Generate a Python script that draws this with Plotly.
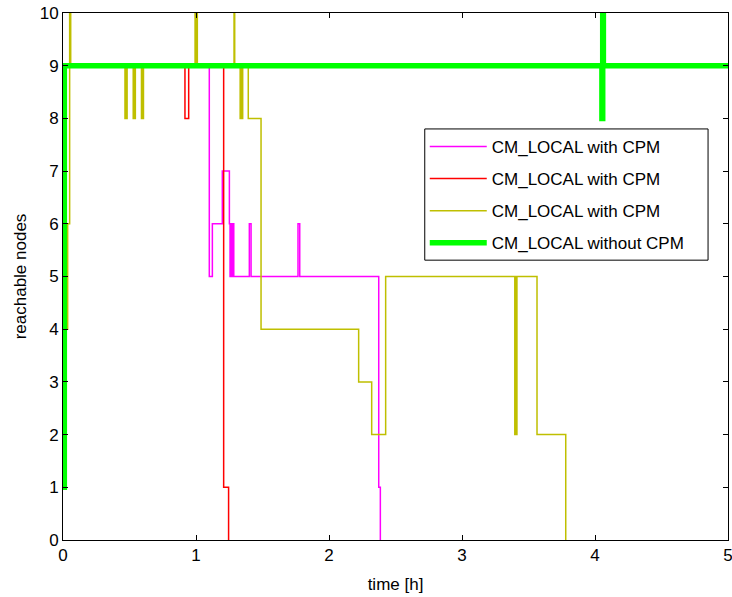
import plotly.graph_objects as go

# Reachable nodes over time for each run (step data, time in hours)
mag_t = [0.005, 1.100, 1.123, 1.198, 1.251, 1.256, 1.263, 1.270, 1.277, 1.284,
         1.401, 1.414, 1.767, 1.780, 2.374, 2.386]
mag_v = [9, 5, 6, 7, 6, 5, 6, 5, 6, 5,
         6, 5, 6, 5, 1, 0]

red_t = [0.005, 0.917, 0.945, 1.208, 1.245]
red_v = [9, 8, 9, 1, 0]

yel_t = [0.020, 0.035, 0.050, 0.058,
         0.466, 0.471, 0.476, 0.482,
         0.528, 0.533, 0.538, 0.544,
         0.590, 0.595, 0.600, 0.605,
         0.993, 0.999, 1.004, 1.010,
         1.286, 1.291,
         1.332, 1.338, 1.344, 1.351,
         1.393, 1.489, 2.223, 2.321, 2.426,
         3.397, 3.402, 3.407, 3.413,
         3.564, 3.780]
yel_v = [4, 6, 10, 9,
         8, 9, 8, 9,
         8, 9, 8, 9,
         8, 9, 8, 9,
         10, 9, 10, 9,
         10, 9,
         8, 9, 8, 9,
         8, 4, 3, 2, 5,
         2, 5, 2, 5,
         2, 0]

grn_t = [0.0, 0.010, 4.052, 4.058, 4.063, 5.0]
grn_v = [1, 9, 8, 10, 9, 9]

series = [
    ("CM_LOCAL with CPM", mag_t, mag_v, "#FF00FF", 1.5),
    ("CM_LOCAL with CPM", red_t, red_v, "#FF0000", 1.5),
    ("CM_LOCAL with CPM", yel_t, yel_v, "#BFBF00", 1.5),
    ("CM_LOCAL without CPM", grn_t, grn_v, "#00FF00", 5.5),
]

FONT = "Liberation Sans, Arial, Helvetica, sans-serif"
FS = 17

# legend frame (paper coordinates)
LEG_X0, LEG_X1 = 0.544, 0.970
LEG_Y0, LEG_Y1 = 0.531, 0.780

fig = go.Figure()
for i, (name, t, v, color, w) in enumerate(series):
    fig.add_trace(go.Scatter(
        x=t, y=v, mode="lines", name=name,
        line=dict(color=color, width=w, shape="hv"),
        legendgroup=f"g{i}",
    ))

axis_common = dict(
    showgrid=False, zeroline=False, showline=True, linecolor="black",
    linewidth=1, mirror="ticks", ticks="inside", ticklen=5,
    tickcolor="black", tickwidth=1, dtick=1,
    ticklabeloverflow="allow", automargin=False,
    tickfont=dict(family=FONT, size=FS, color="black"),
)

# white boxed backdrop for the legend, a bit wider than plotly's own box
fig.add_shape(
    type="rect", xref="paper", yref="paper",
    x0=LEG_X0, x1=LEG_X1, y0=LEG_Y0, y1=LEG_Y1,
    line=dict(color="black", width=1), fillcolor="white", layer="above",
)

fig.update_layout(
    width=732, height=597,
    margin=dict(l=63, r=4, t=13, b=57, autoexpand=False),
    paper_bgcolor="white", plot_bgcolor="white",
    font=dict(family=FONT, size=FS, color="black"),
    xaxis=dict(range=[0, 5], title=dict(text="time [h]", standoff=13,
               font=dict(family=FONT, size=FS)), **axis_common),
    yaxis=dict(range=[0, 10], title=dict(text="reachable nodes", standoff=8,
               font=dict(family=FONT, size=FS)), **axis_common),
    legend=dict(
        x=LEG_X0, y=LEG_Y1, xanchor="left", yanchor="top",
        bgcolor="rgba(0,0,0,0)", borderwidth=0,
        font=dict(family=FONT, size=FS, color="black"),
        tracegroupgap=7, itemwidth=57,
    ),
    showlegend=True,
)

fig.write_html("out.html")
